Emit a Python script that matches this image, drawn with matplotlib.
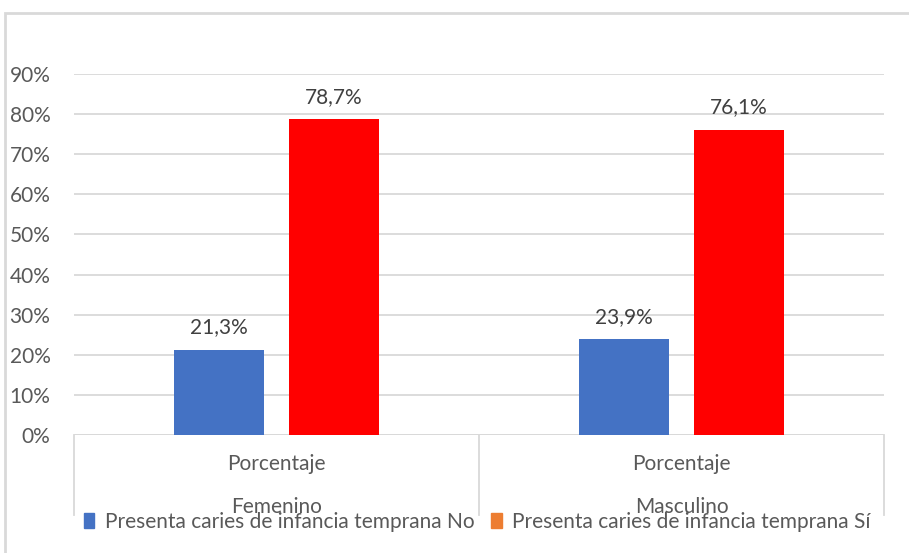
import matplotlib
matplotlib.use("Agg")
import matplotlib.pyplot as plt
from matplotlib.patches import Patch, Rectangle
from matplotlib.transforms import blended_transform_factory
import numpy as np

groups = ["Femenino", "Masculino"]
subcategory = "Porcentaje"
series_names = ["Presenta caries de infancia temprana No",
                "Presenta caries de infancia temprana Sí"]
values_no = [21.3, 23.9]
values_si = [78.7, 76.1]
y_ticks = [0, 10, 20, 30, 40, 50, 60, 70, 80, 90]

blue = "#4472C4"
red = "#FF0000"
orange = "#ED7D31"
txt = "#595959"
grid = "#D9D9D9"
fs = 15

plt.rcParams["font.family"] = ["Lato", "DejaVu Sans"]

fig = plt.figure(figsize=(9.09, 5.53), dpi=100)
ax = fig.add_axes([74 / 909, 1 - 435 / 553, 810 / 909, 361 / 553])

x = np.arange(len(groups))
w = 0.222
off = 0.142
b1 = ax.bar(x - off, np.array(values_no) / 100, w, color=blue, zorder=3)
b2 = ax.bar(x + off, np.array(values_si) / 100, w, color=red, zorder=3)

for bars, vals in ((b1, values_no), (b2, values_si)):
    for b, v in zip(bars, vals):
        ax.annotate(f"{v:.1f}%".replace(".", ","),
                    (b.get_x() + b.get_width() / 2, b.get_height()),
                    xytext=(0, 9), textcoords="offset points",
                    ha="center", va="bottom", fontsize=fs, color="#404040")

ax.set_xlim(-0.5, 1.5)
ax.set_ylim(0, 0.9)
ax.set_yticks([t / 100 for t in y_ticks])
ax.set_yticklabels([f"{t}%" for t in y_ticks])
ax.tick_params(axis="y", length=0, pad=17, labelsize=fs, labelcolor=txt)
ax.set_xticks([])
ax.yaxis.grid(True, color=grid, lw=1.3, zorder=0)
for s in ax.spines.values():
    s.set_visible(False)
ax.axhline(0, color=grid, lw=1.3, zorder=2)

# Two-level category axis
tr = blended_transform_factory(ax.transData, ax.transAxes)
depth = -80 / 361
for xv in (-0.5, 0.5, 1.5):
    ax.plot([xv, xv], [0, depth], transform=tr, color=grid, lw=1.3, clip_on=False)
for xi, g in zip(x, groups):
    ax.text(xi, -29 / 361, subcategory, transform=tr, ha="center", va="center",
            fontsize=fs, color=txt)
    ax.text(xi, -72 / 361, g, transform=tr, ha="center", va="center",
            fontsize=fs, color=txt)

handles = [Patch(color=blue), Patch(color=orange)]
fig.legend(handles, series_names, loc="center", bbox_to_anchor=(0.525, 1 - 522 / 553),
           ncol=2, frameon=False, fontsize=fs, labelcolor=txt,
           handlelength=0.5, handleheight=0.7, handletextpad=0.5, columnspacing=0.8,
           borderaxespad=0, borderpad=0)

# Chart area border
fig.patches.append(Rectangle((5 / 909, -0.05), 1.1, 0.05 + 1 - 13 / 553,
                             transform=fig.transFigure, fill=False,
                             edgecolor=grid, lw=2))

fig.savefig("out.png", dpi=100)
